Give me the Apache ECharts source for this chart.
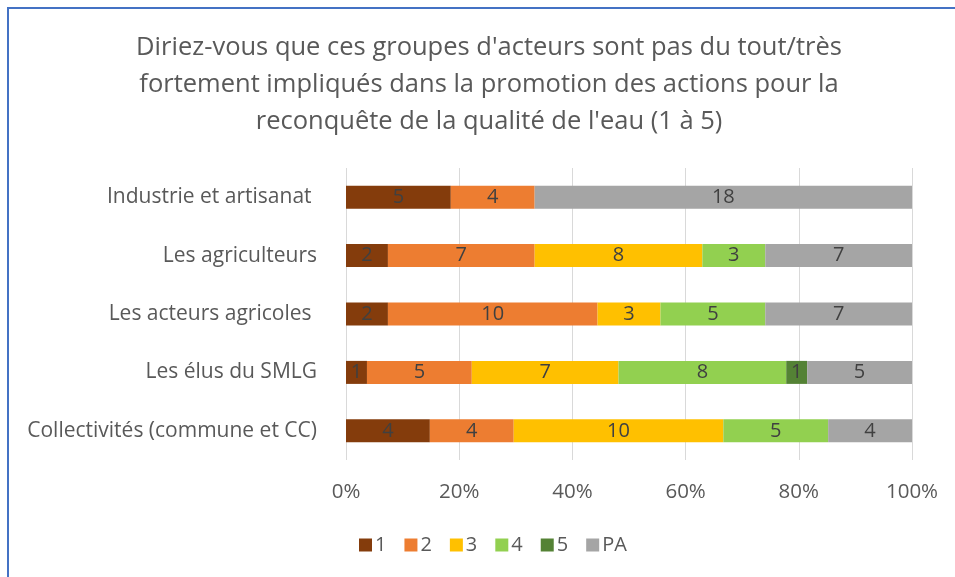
<!DOCTYPE html>
<html>
<head>
<meta charset="utf-8">
<script src="https://cdn.jsdelivr.net/npm/echarts@6/dist/echarts.min.js"></script>
<style>
    html, body { margin: 0; padding: 0; background: #fff; }
    #chart { width: 955px; height: 577px; }
</style>
</head>
<body>
<div id="chart"></div>
<script>
// categories, top to bottom as drawn
var categories = [
    "Industrie et artisanat ",
    "Les agriculteurs",
    "Les acteurs agricoles ",
    "Les élus du SMLG",
    "Collectivités (commune et CC)"
];
var seriesNames = ["1", "2", "3", "4", "5", "PA"];
var seriesColors = ["#843C0C", "#ED7D31", "#FFC000", "#92D050", "#548235", "#A5A5A5"];

// counts per category (same order as categories)
var s1 = [5, 2, 2, 1, 4];
var s2 = [4, 7, 10, 5, 4];
var s3 = [0, 8, 3, 7, 10];
var s4 = [0, 3, 5, 8, 5];
var s5 = [0, 0, 0, 1, 0];
var sPA = [18, 7, 7, 5, 4];

var xTicks = [0, 20, 40, 60, 80, 100];

var allCounts = [s1, s2, s3, s4, s5, sPA];
var totals = categories.map(function(c, i) {
    var t = 0;
    allCounts.forEach(function(arr) { t += arr[i]; });
    return t;
});

var font = "Open Sans";
var textColor = "#595959";

var series = seriesNames.map(function(name, k) {
    return {
        name: name,
        type: "bar",
        stack: "all",
        barWidth: 23,
        itemStyle: { color: seriesColors[k] },
        label: {
            show: true,
            position: "inside",
            color: "#404040",
            fontFamily: font,
            fontSize: 20,
            formatter: function(p) { return p.data.n > 0 ? String(p.data.n) : ""; }
        },
        data: allCounts[k].map(function(v, i) {
            return { value: v / totals[i] * 100, n: v };
        })
    };
});

var option = {
    animation: false,
    backgroundColor: "#fff",
    title: {
        text: "Diriez-vous que ces groupes d'acteurs sont pas du tout/très\nfortement impliqués dans la promotion des actions pour la\nreconquête de la qualité de l'eau (1 à 5)",
        left: 484,
        textAlign: "center",
        top: 24,
        textStyle: {
            fontFamily: font,
            fontWeight: "normal",
            fontSize: 25.5,
            lineHeight: 37,
            color: textColor
        }
    },
    legend: {
        bottom: 17,
        left: 354,
        itemWidth: 13,
        itemHeight: 13,
        itemGap: 18,
        icon: "rect",
        textStyle: { fontFamily: font, fontSize: 20, color: textColor, padding: [0, 0, 0, -2] },
        data: seriesNames
    },
    grid: {
        left: 346,
        right: 43,
        top: 168,
        height: 292
    },
    xAxis: {
        type: "value",
        min: 0,
        max: 100,
        interval: 20,
        axisLine: { show: false },
        axisTick: { show: false },
        splitLine: { show: true, lineStyle: { color: "#D9D9D9", width: 1 } },
        axisLabel: {
            fontFamily: font,
            fontSize: 20.5,
            color: textColor,
            margin: 22,
            formatter: function(v) { return xTicks.indexOf(v) >= 0 ? v + "%" : ""; }
        }
    },
    yAxis: {
        type: "category",
        inverse: true,
        data: categories,
        axisLine: { show: false },
        axisTick: { show: false },
        axisLabel: {
            fontFamily: font,
            fontSize: 21,
            color: textColor,
            margin: 29
        }
    },
    graphic: [
        { type: "rect", shape: { x: 7, y: 7, width: 960, height: 2 }, style: { fill: "#4472C4" } },
        { type: "rect", shape: { x: 7, y: 7, width: 2, height: 580 }, style: { fill: "#4472C4" } }
    ],
    series: series
};

echarts.init(document.getElementById("chart")).setOption(option);
</script>
</body>
</html>
